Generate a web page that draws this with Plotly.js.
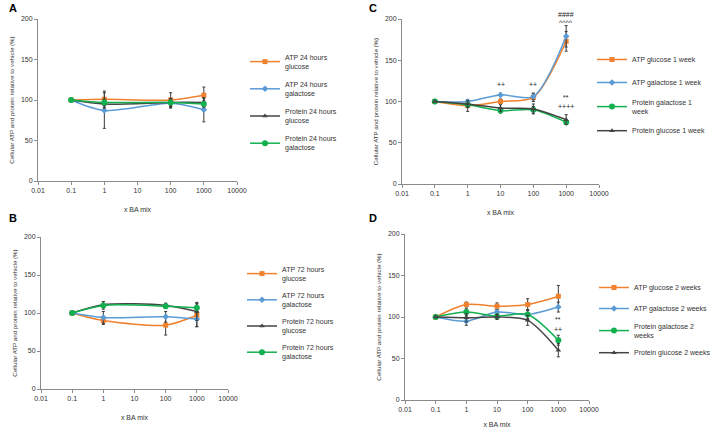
<!DOCTYPE html>
<html>
<head>
<meta charset="utf-8">
<script src="https://cdn.plot.ly/plotly-3.0.1.min.js"></script>
<style>html,body{margin:0;padding:0;background:#fff;}#chart{width:718px;height:428px;}</style>
</head>
<body>
<div id="chart"></div>
<script>
// ---- Data ----
const xTickVals = [0.01, 0.1, 1, 10, 100, 1000, 10000];
const xTickText = ["0.01", "0.1", "1", "10", "100", "1000", "10000"];
const yTickVals = [0, 50, 100, 150, 200];

// Panel A: 24 hours
const xA = [0.1, 1, 100, 1000];
const atpGlucoseA = [100, 101, 100, 106];
const atpGlucoseAErr = [0, 10, 9, 10];
const atpGalactoseA = [100, 87, 96, 88];
const atpGalactoseAErr = [0, 22, 6, 15];
const protGlucoseA = [100, 95, 97, 97];
const protGlucoseAErr = [0, 5, 5, 5];
const protGalactoseA = [100, 97, 97, 95];
const protGalactoseAErr = [0, 4, 4, 4];
const namesA = ["ATP 24 hours<br>glucose", "ATP 24 hours<br>galactose", "Protein 24 hours<br>glucose", "Protein 24 hours<br>galactose"];

// Panel B: 72 hours
const xB = [0.1, 1, 100, 1000];
const atpGlucoseB = [100, 90, 84, 97];
const atpGlucoseBErr = [0, 5, 13, 15];
const atpGalactoseB = [100, 94, 95, 92];
const atpGalactoseBErr = [0, 8, 7, 10];
const protGlucoseB = [100, 111, 110, 102];
const protGlucoseBErr = [0, 4, 3, 12];
const protGalactoseB = [100, 110, 109, 107];
const protGalactoseBErr = [0, 5, 3, 6];
const namesB = ["ATP 72 hours<br>glucose", "ATP 72 hours<br>galactose", "Protein 72 hours<br>glucose", "Protein 72 hours<br>galactose"];

// Panel C: 1 week
const xC = [0.1, 1, 10, 100, 1000];
const atpGlucoseC = [100, 95, 100, 105, 173];
const atpGlucoseCErr = [0, 7, 3, 5, 12];
const atpGalactoseC = [100, 100, 108, 106, 179];
const atpGalactoseCErr = [0, 2, 2, 4, 13];
const protGalactoseC = [100, 96, 89, 90, 75];
const protGalactoseCErr = [0, 3, 3, 4, 3];
const protGlucoseC = [100, 97, 92, 91, 78];
const protGlucoseCErr = [0, 4, 4, 6, 6];
const namesC = ["ATP glucose 1 week", "ATP galactose 1 week", "Protein galactose 1<br>week", "Protein glucose 1 week"];
// [x, y, text, extra pixel shift upward]
const annC = [[10, 120, "++", 0], [100, 120, "++", 0], [1000, 196, "####", 8], [1000, 196, "^^^^", 0], [1000, 105, "**", 0], [1000, 94, "++++", 0]];

// Panel D: 2 weeks
const xD = [0.1, 1, 10, 100, 1000];
const atpGlucoseD = [100, 115, 113, 115, 125];
const atpGlucoseDErr = [0, 3, 4, 7, 13];
const atpGalactoseD = [100, 95, 106, 103, 112];
const atpGalactoseDErr = [0, 5, 3, 5, 6];
const protGalactoseD = [100, 106, 101, 103, 72];
const protGalactoseDErr = [0, 4, 3, 6, 6];
const protGlucoseD = [100, 99, 100, 96, 60];
const protGlucoseDErr = [0, 5, 3, 6, 8];
const namesD = ["ATP glucose 2 weeks", "ATP galactose 2 weeks", "Protein galactose 2<br>weeks", "Protein glucose 2 weeks"];
const annD = [[1000, 97, "**", 0], [1000, 85, "++", 0]];

// ---- Styles ----
const ORANGE = "#F0812F", BLUE = "#5B9BD5", GRAY = "#444444", GREEN = "#12B04F";
const styles = {
  atpGlu: {color: ORANGE, symbol: "square", size: 5},
  atpGal: {color: BLUE, symbol: "diamond", size: 5},
  protGlu: {color: GRAY, symbol: "triangle-up", size: 5},
  protGal: {color: GREEN, symbol: "circle", size: 6}
};

let gid = 0;
function tr(x, y, err, name, st, xa, ya, leg) {
  gid += 1;
  return {
    type: "scatter", mode: "lines+markers", x: x, y: y, name: name,
    xaxis: xa, yaxis: ya, legend: leg, legendgroup: "g" + gid,
    line: {color: st.color, width: 1.5, shape: "spline", smoothing: 0.8},
    marker: {color: st.color, symbol: st.symbol, size: st.size},
    error_y: {type: "data", array: err, visible: true, color: "#3a3a3a", thickness: 1, width: 1.5}
  };
}

const data = [
  tr(xA, atpGlucoseA, atpGlucoseAErr, namesA[0], styles.atpGlu, "x", "y", "legend"),
  tr(xA, atpGalactoseA, atpGalactoseAErr, namesA[1], styles.atpGal, "x", "y", "legend"),
  tr(xA, protGlucoseA, protGlucoseAErr, namesA[2], styles.protGlu, "x", "y", "legend"),
  tr(xA, protGalactoseA, protGalactoseAErr, namesA[3], styles.protGal, "x", "y", "legend"),

  tr(xC, atpGlucoseC, atpGlucoseCErr, namesC[0], styles.atpGlu, "x2", "y2", "legend2"),
  tr(xC, atpGalactoseC, atpGalactoseCErr, namesC[1], styles.atpGal, "x2", "y2", "legend2"),
  tr(xC, protGalactoseC, protGalactoseCErr, namesC[2], styles.protGal, "x2", "y2", "legend2"),
  tr(xC, protGlucoseC, protGlucoseCErr, namesC[3], styles.protGlu, "x2", "y2", "legend2"),

  tr(xB, atpGlucoseB, atpGlucoseBErr, namesB[0], styles.atpGlu, "x3", "y3", "legend3"),
  tr(xB, atpGalactoseB, atpGalactoseBErr, namesB[1], styles.atpGal, "x3", "y3", "legend3"),
  tr(xB, protGlucoseB, protGlucoseBErr, namesB[2], styles.protGlu, "x3", "y3", "legend3"),
  tr(xB, protGalactoseB, protGalactoseBErr, namesB[3], styles.protGal, "x3", "y3", "legend3"),

  tr(xD, atpGlucoseD, atpGlucoseDErr, namesD[0], styles.atpGlu, "x4", "y4", "legend4"),
  tr(xD, atpGalactoseD, atpGalactoseDErr, namesD[1], styles.atpGal, "x4", "y4", "legend4"),
  tr(xD, protGalactoseD, protGalactoseDErr, namesD[2], styles.protGal, "x4", "y4", "legend4"),
  tr(xD, protGlucoseD, protGlucoseDErr, namesD[3], styles.protGlu, "x4", "y4", "legend4")
];

const W = 718, H = 428;
const FONT = "Liberation Sans, Arial, sans-serif";
const TXT = "#333333";

function xax(x0, x1, yAnchor) {
  return {
    type: "log", range: [-2, 4], domain: [x0 / W, x1 / W], anchor: yAnchor,
    tickvals: xTickVals, ticktext: xTickText, ticks: "outside", ticklen: 3, tickcolor: "#8a8a8a",
    showline: true, linecolor: "#8a8a8a", linewidth: 1, showgrid: false, zeroline: false,
    tickfont: {family: FONT, size: 7, color: TXT},
    title: {text: "x BA mix", font: {family: FONT, size: 7, color: TXT}, standoff: 13}
  };
}
function yax(top, bottom, xAnchor) {
  return {
    range: [0, 200], domain: [1 - bottom / H, 1 - top / H], anchor: xAnchor,
    tickvals: yTickVals, ticks: "outside", ticklen: 3, tickcolor: "#8a8a8a",
    showline: true, linecolor: "#8a8a8a", linewidth: 1, showgrid: false, zeroline: false,
    tickfont: {family: FONT, size: 7, color: TXT},
    title: {text: "Cellular ATP and protein relative to vehicle (%)", font: {family: FONT, size: 6.2, color: TXT}, standoff: 5}
  };
}
function leg(xpx, ypx, gap) {
  return {x: xpx / W, y: 1 - ypx / H, xanchor: "left", yanchor: "top",
    font: {family: FONT, size: 7, color: TXT}, bgcolor: "rgba(0,0,0,0)",
    tracegroupgap: gap, itemwidth: 30, traceorder: "grouped"};
}

const annotations = [];
[["A", 7, 8], ["C", 367, 8], ["B", 7, 218], ["D", 367, 218]].forEach(function (p) {
  annotations.push({text: "<b>" + p[0] + "</b>", xref: "paper", yref: "paper", x: p[1] / W, y: 1 - p[2] / H,
    xanchor: "left", yanchor: "middle", showarrow: false, font: {family: FONT, size: 11, color: "#000"}});
});
annC.forEach(function (a) {
  annotations.push({text: a[2], xref: "x2", yref: "y2", x: Math.log10(a[0]), y: a[1], yshift: a[3], showarrow: false,
    font: {family: FONT, size: 7, color: "#222"}});
});
annD.forEach(function (a) {
  annotations.push({text: a[2], xref: "x4", yref: "y4", x: Math.log10(a[0]), y: a[1], yshift: a[3], showarrow: false,
    font: {family: FONT, size: 7, color: "#222"}});
});

const layout = {
  width: W, height: H, margin: {l: 0, r: 0, t: 0, b: 0},
  paper_bgcolor: "#fff", plot_bgcolor: "#fff", showlegend: true,
  xaxis: xax(38, 237, "y"), yaxis: yax(19, 181, "x"),
  xaxis2: xax(402, 599, "y2"), yaxis2: yax(19, 184, "x2"),
  xaxis3: xax(41, 228, "y3"), yaxis3: yax(237, 389, "x3"),
  xaxis4: xax(405, 589, "y4"), yaxis4: yax(234, 400, "x4"),
  legend: leg(245, 46, 6), legend2: leg(592, 45, 4), legend3: leg(242, 258, 5), legend4: leg(594, 273, 2),
  annotations: annotations
};

Plotly.newPlot("chart", data, layout, {displayModeBar: false, staticPlot: true});
</script>
</body>
</html>
